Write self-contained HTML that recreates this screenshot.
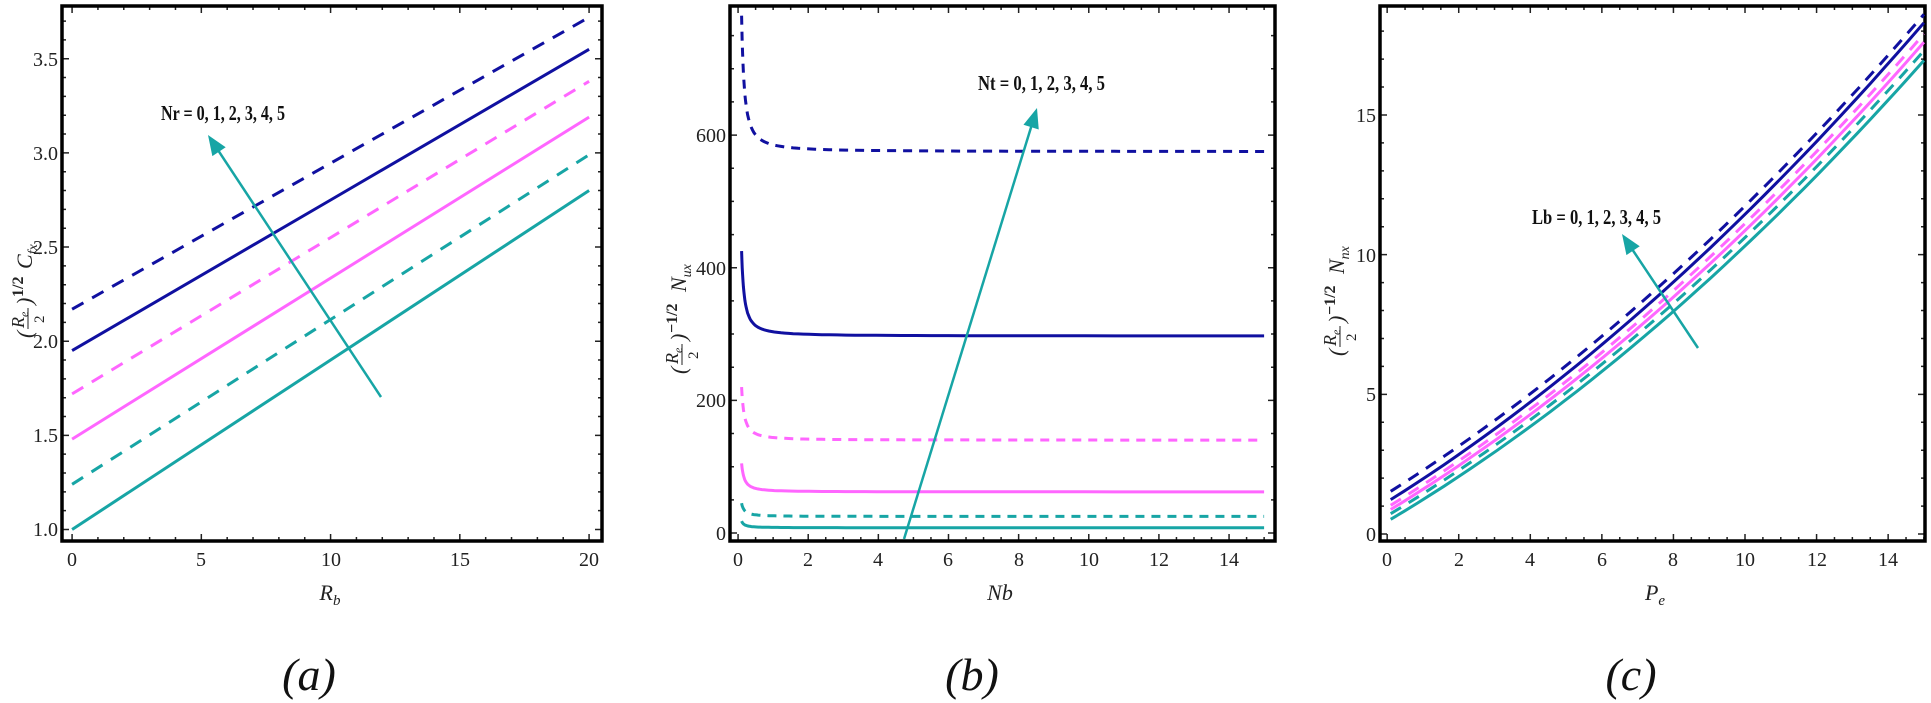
<!DOCTYPE html>
<html><head><meta charset="utf-8">
<style>
html,body{margin:0;padding:0;background:#fff;}
svg{display:block;}
.tk{font-family:"Liberation Serif",serif;font-size:20px;fill:#222;}
.ax{font-family:"Liberation Serif",serif;font-style:italic;font-size:22px;fill:#222;}
.lab{font-family:"Liberation Serif",serif;font-style:italic;font-size:46px;fill:#111;}
.ann{font-family:"Liberation Serif",serif;font-weight:bold;font-size:21px;fill:#111;}
</style></head>
<body>
<svg id="s" width="1931" height="703" viewBox="0 0 1931 703" xmlns="http://www.w3.org/2000/svg">
<g id="plots"></g>

<!-- Panel a text -->
<g class="tk" text-anchor="end">
<text x="58" y="536">1.0</text><text x="58" y="442">1.5</text><text x="58" y="348">2.0</text>
<text x="58" y="254">2.5</text><text x="58" y="160">3.0</text><text x="58" y="66">3.5</text>
</g>
<g class="tk" text-anchor="middle">
<text x="72" y="566">0</text><text x="201" y="566">5</text><text x="331" y="566">10</text>
<text x="460" y="566">15</text><text x="589" y="566">20</text>
</g>
<text class="ax" x="330" y="600" text-anchor="middle">R<tspan font-size="15" dy="5">b</tspan></text>
<text class="ann" x="161" y="120" textLength="124" lengthAdjust="spacingAndGlyphs">Nr = 0, 1, 2, 3, 4, 5</text>
<g transform="translate(26,268) rotate(-90)" class="ax">
<text x="-70" y="6">(</text>
<text x="-60" y="-2" font-size="18">R<tspan font-size="12" dy="4">e</tspan></text>
<line x1="-61" y1="2" x2="-40" y2="2" stroke="#222" stroke-width="1"/>
<text x="-55" y="18" font-size="15" font-style="normal">2</text>
<text x="-37" y="6">)</text>
<text x="-29" y="-3" font-size="16" font-style="normal" font-weight="bold">1/2</text>
<text x="-1" y="6">C<tspan font-size="14" dy="5">fx</tspan></text>
</g>

<!-- Panel b text -->
<g class="tk" text-anchor="end">
<text x="726" y="540">0</text><text x="726" y="407">200</text><text x="726" y="275">400</text><text x="726" y="142">600</text>
</g>
<g class="tk" text-anchor="middle">
<text x="738" y="566">0</text><text x="808" y="566">2</text><text x="878" y="566">4</text><text x="948" y="566">6</text>
<text x="1019" y="566">8</text><text x="1089" y="566">10</text><text x="1159" y="566">12</text><text x="1229" y="566">14</text>
</g>
<text class="ax" x="1000" y="600" text-anchor="middle">Nb</text>
<text class="ann" x="978" y="90" textLength="127" lengthAdjust="spacingAndGlyphs">Nt = 0, 1, 2, 3, 4, 5</text>
<g transform="translate(680,296) rotate(-90)" class="ax">
<text x="-78" y="6">(</text>
<text x="-68" y="-2" font-size="18">R<tspan font-size="12" dy="4">e</tspan></text>
<line x1="-69" y1="2" x2="-48" y2="2" stroke="#222" stroke-width="1"/>
<text x="-63" y="18" font-size="15" font-style="normal">2</text>
<text x="-45" y="6">)</text>
<text x="-37" y="-3" font-size="16" font-style="normal" font-weight="bold">−1/2</text>
<text x="4" y="6">N<tspan font-size="14" dy="5">ux</tspan></text>
</g>

<!-- Panel c text -->
<g class="tk" text-anchor="end">
<text x="1376" y="541">0</text><text x="1376" y="401">5</text><text x="1376" y="262">10</text><text x="1376" y="122">15</text>
</g>
<g class="tk" text-anchor="middle">
<text x="1387" y="566">0</text><text x="1459" y="566">2</text><text x="1530" y="566">4</text><text x="1602" y="566">6</text>
<text x="1673" y="566">8</text><text x="1745" y="566">10</text><text x="1817" y="566">12</text><text x="1888" y="566">14</text>
</g>
<text class="ax" x="1655" y="600" text-anchor="middle">P<tspan font-size="15" dy="5">e</tspan></text>
<text class="ann" x="1532" y="224" textLength="129" lengthAdjust="spacingAndGlyphs">Lb = 0, 1, 2, 3, 4, 5</text>
<g transform="translate(1338,278) rotate(-90)" class="ax">
<text x="-78" y="6">(</text>
<text x="-68" y="-2" font-size="18">R<tspan font-size="12" dy="4">e</tspan></text>
<line x1="-69" y1="2" x2="-48" y2="2" stroke="#222" stroke-width="1"/>
<text x="-63" y="18" font-size="15" font-style="normal">2</text>
<text x="-45" y="6">)</text>
<text x="-37" y="-3" font-size="16" font-style="normal" font-weight="bold">−1/2</text>
<text x="4" y="6">N<tspan font-size="14" dy="5">nx</tspan></text>
</g>

<text class="lab" x="309" y="690" text-anchor="middle">(a)</text>
<text class="lab" x="972" y="690" text-anchor="middle">(b)</text>
<text class="lab" x="1631" y="690" text-anchor="middle">(c)</text>
</svg>
<script>
(function(){
var NS="http://www.w3.org/2000/svg",G=document.getElementById("plots");
var NAVY="#1010a0",MAG="#ff66ff",TEAL="#17a5a5";
function el(t,a){var e=document.createElementNS(NS,t);for(var k in a)e.setAttribute(k,a[k]);G.appendChild(e);return e;}
function mk(f,xr,yr){return{X:function(v){return f[0]+(v-xr[0])/(xr[1]-xr[0])*(f[1]-f[0]);},Y:function(v){return f[3]-(v-yr[0])/(yr[1]-yr[0])*(f[3]-f[2]);},f:f,xr:xr,yr:yr};}
function frame(p,xmaj,xmin,ymaj,ymin){
 var f=p.f,d="";
 function rng(a,b,s){var r=[];var st=Math.ceil(a/s-1e-9)*s;for(var v=st;v<=b+1e-9;v+=s)r.push(v);return r;}
 rng(p.xr[0],p.xr[1],xmin).forEach(function(v){var x=p.X(v);var L=(Math.abs(v/xmaj-Math.round(v/xmaj))<1e-6)?7:4;d+="M"+x+","+f[3]+"v-"+L+"M"+x+","+f[2]+"v"+L;});
 rng(p.yr[0],p.yr[1],ymin).forEach(function(v){var y=p.Y(v);var L=(Math.abs(v/ymaj-Math.round(v/ymaj))<1e-6)?7:4;d+="M"+f[0]+","+y+"h"+L+"M"+f[1]+","+y+"h-"+L;});
 el("path",{d:d,stroke:"#222","stroke-width":1.5,fill:"none"});
 el("rect",{x:f[0],y:f[2],width:f[1]-f[0],height:f[3]-f[2],fill:"none",stroke:"#000","stroke-width":3.5});
}
function curve(p,fn,a,b,n,col,dash){
 var d="";for(var i=0;i<=n;i++){var v=a+(b-a)*i/n;d+=(i?"L":"M")+p.X(v).toFixed(1)+","+p.Y(fn(v)).toFixed(1);}
 var o={d:d,stroke:col,"stroke-width":3,fill:"none"};if(dash)o["stroke-dasharray"]=dash;el("path",o);
}
function arrow(X1,Y1,X2,Y2){
 var ang=Math.atan2(Y2-Y1,X2-X1);var L=20,W=8;
 var bx=X2-L*Math.cos(ang),by=Y2-L*Math.sin(ang);
 el("line",{x1:X1,y1:Y1,x2:bx+4*Math.cos(ang),y2:by+4*Math.sin(ang),stroke:TEAL,"stroke-width":2.5});
 el("polygon",{points:X2+","+Y2+" "+(bx+W*Math.sin(ang))+","+(by-W*Math.cos(ang))+" "+(bx-W*Math.sin(ang))+","+(by+W*Math.cos(ang)),fill:TEAL});}

// Panel a
var A=mk([62,602,6,541],[-0.39,20.5],[0.939,3.78]);
frame(A,5,1,0.5,0.1);
[[2.17,3.72,NAVY,1],[1.95,3.55,NAVY,0],[1.72,3.38,MAG,1],[1.48,3.19,MAG,0],[1.24,2.99,TEAL,1],[1.0,2.80,TEAL,0]].forEach(function(s){
 curve(A,function(v){return s[0]+(s[1]-s[0])*v/20;},0,20,2,s[2],s[3]?"13,10":null);});
arrow(381,397,208,135);

// Panel b
var B=mk([730,1275,6,541],[-0.23,15.31],[-12,794.6]);
frame(B,2,0.5,200,50);
[[575,205,NAVY,1],[297,128,NAVY,0],[140,80,MAG,1],[62,43,MAG,0],[25,20,TEAL,1],[8,10,TEAL,0]].forEach(function(s){
 var fn=function(v){return s[0]+s[1]*Math.pow(0.1/v,1.3);};
 var d="";for(var i=0;i<=60;i++){var v=0.1*Math.pow(150,i/60);d+=(i?"L":"M")+B.X(v).toFixed(1)+","+B.Y(fn(v)).toFixed(1);}
 var o={d:d,stroke:s[2],"stroke-width":3,fill:"none"};if(s[3])o["stroke-dasharray"]="9,7";el("path",o);});
arrow(904,539,1037,108);

// Panel c
var C=mk([1380,1925,6,541],[-0.2,15.03],[-0.25,18.9]);
frame(C,2,0.5,5,1);
[[1.45,18.6,NAVY,1],[1.15,18.3,NAVY,0],[0.95,17.9,MAG,1],[0.8,17.6,MAG,0],[0.65,17.3,TEAL,1],[0.45,16.95,TEAL,0]].forEach(function(s){
 var c=0.0228,b=(s[1]-s[0]-c*225)/15;
 curve(C,function(v){return s[0]+b*v+c*v*v;},0.1,15,40,s[2],s[3]?"12,9":null);});
arrow(1698,348,1622,234);
})();
</script>
</body></html>
